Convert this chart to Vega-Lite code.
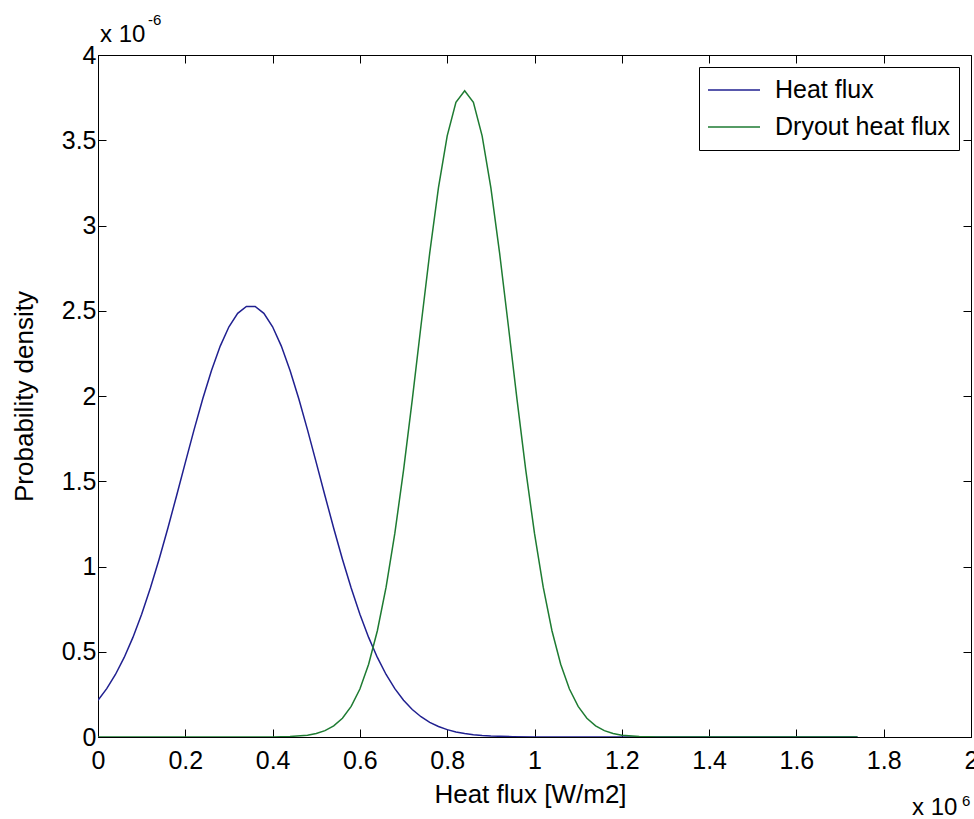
{
  "$schema": "https://vega.github.io/schema/vega-lite/v6.json",
  "width": 873,
  "height": 682,
  "autosize": "none",
  "padding": {"left": 98, "top": 55, "right": 3, "bottom": 82},
  "background": "white",
  "config": {
    "font": "Liberation Sans",
    "view": {"stroke": "black", "strokeWidth": 1},
    "axis": {
      "grid": false,
      "domainColor": "black",
      "tickColor": "black",
      "labelColor": "black",
      "titleColor": "black",
      "labelFontSize": 25,
      "titleFontSize": 26,
      "titleFontWeight": "normal",
      "tickSize": -8,
      "labelFont": "Liberation Sans",
      "titleFont": "Liberation Sans"
    },
    "legend": {"labelFont": "Liberation Sans"}
  },
  "datasets": {
    "curves": [
      {"series": "Heat flux", "x": 0.00, "y": 0.2156},
      {"series": "Heat flux", "x": 0.02, "y": 0.2834},
      {"series": "Heat flux", "x": 0.04, "y": 0.3666},
      {"series": "Heat flux", "x": 0.06, "y": 0.4665},
      {"series": "Heat flux", "x": 0.08, "y": 0.5842},
      {"series": "Heat flux", "x": 0.10, "y": 0.7203},
      {"series": "Heat flux", "x": 0.12, "y": 0.8736},
      {"series": "Heat flux", "x": 0.14, "y": 1.0426},
      {"series": "Heat flux", "x": 0.16, "y": 1.2243},
      {"series": "Heat flux", "x": 0.18, "y": 1.4153},
      {"series": "Heat flux", "x": 0.20, "y": 1.6093},
      {"series": "Heat flux", "x": 0.22, "y": 1.8011},
      {"series": "Heat flux", "x": 0.24, "y": 1.9838},
      {"series": "Heat flux", "x": 0.26, "y": 2.1497},
      {"series": "Heat flux", "x": 0.28, "y": 2.2927},
      {"series": "Heat flux", "x": 0.30, "y": 2.4060},
      {"series": "Heat flux", "x": 0.32, "y": 2.4847},
      {"series": "Heat flux", "x": 0.34, "y": 2.5249},
      {"series": "Heat flux", "x": 0.36, "y": 2.5249},
      {"series": "Heat flux", "x": 0.38, "y": 2.4847},
      {"series": "Heat flux", "x": 0.40, "y": 2.4060},
      {"series": "Heat flux", "x": 0.42, "y": 2.2927},
      {"series": "Heat flux", "x": 0.44, "y": 2.1497},
      {"series": "Heat flux", "x": 0.46, "y": 1.9838},
      {"series": "Heat flux", "x": 0.48, "y": 1.8011},
      {"series": "Heat flux", "x": 0.50, "y": 1.6093},
      {"series": "Heat flux", "x": 0.52, "y": 1.4153},
      {"series": "Heat flux", "x": 0.54, "y": 1.2243},
      {"series": "Heat flux", "x": 0.56, "y": 1.0426},
      {"series": "Heat flux", "x": 0.58, "y": 0.8736},
      {"series": "Heat flux", "x": 0.60, "y": 0.7203},
      {"series": "Heat flux", "x": 0.62, "y": 0.5842},
      {"series": "Heat flux", "x": 0.64, "y": 0.4665},
      {"series": "Heat flux", "x": 0.66, "y": 0.3666},
      {"series": "Heat flux", "x": 0.68, "y": 0.2834},
      {"series": "Heat flux", "x": 0.70, "y": 0.2156},
      {"series": "Heat flux", "x": 0.72, "y": 0.1615},
      {"series": "Heat flux", "x": 0.74, "y": 0.1189},
      {"series": "Heat flux", "x": 0.76, "y": 0.0861},
      {"series": "Heat flux", "x": 0.78, "y": 0.0615},
      {"series": "Heat flux", "x": 0.80, "y": 0.0432},
      {"series": "Heat flux", "x": 0.82, "y": 0.0298},
      {"series": "Heat flux", "x": 0.84, "y": 0.0203},
      {"series": "Heat flux", "x": 0.86, "y": 0.0136},
      {"series": "Heat flux", "x": 0.88, "y": 0.0089},
      {"series": "Heat flux", "x": 0.90, "y": 0.0058},
      {"series": "Heat flux", "x": 0.95, "y": 0.0018},
      {"series": "Heat flux", "x": 1.00, "y": 0.0005},
      {"series": "Heat flux", "x": 1.10, "y": 0.0},
      {"series": "Heat flux", "x": 1.20, "y": 0.0},
      {"series": "Heat flux", "x": 1.40, "y": 0.0},
      {"series": "Heat flux", "x": 1.60, "y": 0.0},
      {"series": "Heat flux", "x": 1.74, "y": 0.0},
      {"series": "Dryout heat flux", "x": 0.00, "y": 0.0},
      {"series": "Dryout heat flux", "x": 0.20, "y": 0.0},
      {"series": "Dryout heat flux", "x": 0.36, "y": 0.0},
      {"series": "Dryout heat flux", "x": 0.40, "y": 0.0006},
      {"series": "Dryout heat flux", "x": 0.44, "y": 0.0028},
      {"series": "Dryout heat flux", "x": 0.48, "y": 0.0109},
      {"series": "Dryout heat flux", "x": 0.50, "y": 0.0206},
      {"series": "Dryout heat flux", "x": 0.52, "y": 0.0373},
      {"series": "Dryout heat flux", "x": 0.54, "y": 0.0653},
      {"series": "Dryout heat flux", "x": 0.56, "y": 0.1102},
      {"series": "Dryout heat flux", "x": 0.58, "y": 0.1793},
      {"series": "Dryout heat flux", "x": 0.60, "y": 0.2817},
      {"series": "Dryout heat flux", "x": 0.62, "y": 0.4267},
      {"series": "Dryout heat flux", "x": 0.64, "y": 0.6233},
      {"series": "Dryout heat flux", "x": 0.66, "y": 0.8786},
      {"series": "Dryout heat flux", "x": 0.68, "y": 1.1939},
      {"series": "Dryout heat flux", "x": 0.70, "y": 1.5649},
      {"series": "Dryout heat flux", "x": 0.72, "y": 1.9788},
      {"series": "Dryout heat flux", "x": 0.74, "y": 2.4135},
      {"series": "Dryout heat flux", "x": 0.76, "y": 2.8395},
      {"series": "Dryout heat flux", "x": 0.78, "y": 3.2215},
      {"series": "Dryout heat flux", "x": 0.80, "y": 3.5258},
      {"series": "Dryout heat flux", "x": 0.82, "y": 3.7222},
      {"series": "Dryout heat flux", "x": 0.84, "y": 3.7900},
      {"series": "Dryout heat flux", "x": 0.86, "y": 3.7222},
      {"series": "Dryout heat flux", "x": 0.88, "y": 3.5258},
      {"series": "Dryout heat flux", "x": 0.90, "y": 3.2215},
      {"series": "Dryout heat flux", "x": 0.92, "y": 2.8395},
      {"series": "Dryout heat flux", "x": 0.94, "y": 2.4135},
      {"series": "Dryout heat flux", "x": 0.96, "y": 1.9788},
      {"series": "Dryout heat flux", "x": 0.98, "y": 1.5649},
      {"series": "Dryout heat flux", "x": 1.00, "y": 1.1939},
      {"series": "Dryout heat flux", "x": 1.02, "y": 0.8786},
      {"series": "Dryout heat flux", "x": 1.04, "y": 0.6233},
      {"series": "Dryout heat flux", "x": 1.06, "y": 0.4267},
      {"series": "Dryout heat flux", "x": 1.08, "y": 0.2817},
      {"series": "Dryout heat flux", "x": 1.10, "y": 0.1793},
      {"series": "Dryout heat flux", "x": 1.12, "y": 0.1102},
      {"series": "Dryout heat flux", "x": 1.14, "y": 0.0653},
      {"series": "Dryout heat flux", "x": 1.16, "y": 0.0373},
      {"series": "Dryout heat flux", "x": 1.18, "y": 0.0206},
      {"series": "Dryout heat flux", "x": 1.20, "y": 0.0109},
      {"series": "Dryout heat flux", "x": 1.24, "y": 0.0028},
      {"series": "Dryout heat flux", "x": 1.28, "y": 0.0006},
      {"series": "Dryout heat flux", "x": 1.35, "y": 0.0},
      {"series": "Dryout heat flux", "x": 1.50, "y": 0.0},
      {"series": "Dryout heat flux", "x": 1.74, "y": 0.0}
    ]
  },
  "resolve": {"axis": {"x": "independent", "y": "independent"}},
  "layer": [
    {
      "data": {"name": "curves"},
      "mark": {"type": "line", "strokeWidth": 1.5, "clip": true},
      "encoding": {
        "x": {
          "field": "x", "type": "quantitative",
          "scale": {"domain": [0, 2], "nice": false, "zero": false},
          "axis": {
            "orient": "bottom",
            "values": [0, 0.2, 0.4, 0.6, 0.8, 1, 1.2, 1.4, 1.6, 1.8, 2],
            "labelExpr": "format(datum.value, '~g')",
            "title": "Heat flux [W/m2]",
            "labelPadding": 19,
            "titlePadding": 8,
            "titleX": 432,
            "labelFlush": false,
            "labelOverlap": false
          }
        },
        "y": {
          "field": "y", "type": "quantitative",
          "scale": {"domain": [0, 4], "nice": false},
          "axis": {
            "orient": "left",
            "values": [0, 0.5, 1, 1.5, 2, 2.5, 3, 3.5, 4],
            "labelExpr": "format(datum.value, '~g')",
            "title": "Probability density",
            "labelPadding": 10,
            "titlePadding": 24,
            "labelFlush": false,
            "labelOverlap": false
          }
        },
        "color": {
          "field": "series", "type": "nominal",
          "scale": {"domain": ["Heat flux", "Dryout heat flux"], "range": ["#202090", "#1e7b32"]},
          "legend": {
            "title": null,
            "orient": "top-right",
            "offset": 12,
            "symbolType": "stroke",
            "symbolSize": 2704,
            "symbolStrokeWidth": 1.5,
            "clipHeight": 30,
            "labelFontSize": 25,
            "labelLimit": 400,
            "labelColor": "black",
            "labelOffset": 14,
            "rowPadding": 7,
            "padding": 8,
            "strokeColor": "black",
            "fillColor": "white"
          }
        }
      }
    },
    {
      "data": {"name": "curves"},
      "mark": {"type": "line", "opacity": 0},
      "encoding": {
        "x": {
          "field": "x", "type": "quantitative",
          "axis": {"orient": "top", "values": [0, 0.2, 0.4, 0.6, 0.8, 1, 1.2, 1.4, 1.6, 1.8, 2], "labels": false, "title": null, "domain": false}
        },
        "y": {
          "field": "y", "type": "quantitative",
          "axis": {"orient": "right", "values": [0, 0.5, 1, 1.5, 2, 2.5, 3, 3.5, 4], "labels": false, "title": null, "domain": false}
        }
      }
    },
    {
      "data": {"values": [{"t": "x 10"}]},
      "mark": {"type": "text", "align": "left", "baseline": "alphabetic", "fontSize": 24, "dx": 2, "dy": -13, "color": "black"},
      "encoding": {
        "x": {"datum": 0, "type": "quantitative", "axis": null},
        "y": {"datum": 4, "type": "quantitative", "axis": null},
        "text": {"field": "t"}
      }
    },
    {
      "data": {"values": [{"t": "-6"}]},
      "mark": {"type": "text", "align": "left", "baseline": "alphabetic", "fontSize": 15, "dx": 50, "dy": -30, "color": "black"},
      "encoding": {
        "x": {"datum": 0, "type": "quantitative", "axis": null},
        "y": {"datum": 4, "type": "quantitative", "axis": null},
        "text": {"field": "t"}
      }
    },
    {
      "data": {"values": [{"t": "x 10"}]},
      "mark": {"type": "text", "align": "left", "baseline": "alphabetic", "fontSize": 24, "dx": -59, "dy": 78, "color": "black"},
      "encoding": {
        "x": {"datum": 2, "type": "quantitative", "axis": null},
        "y": {"datum": 0, "type": "quantitative", "axis": null},
        "text": {"field": "t"}
      }
    },
    {
      "data": {"values": [{"t": "6"}]},
      "mark": {"type": "text", "align": "left", "baseline": "alphabetic", "fontSize": 15, "dx": -9, "dy": 69, "color": "black"},
      "encoding": {
        "x": {"datum": 2, "type": "quantitative", "axis": null},
        "y": {"datum": 0, "type": "quantitative", "axis": null},
        "text": {"field": "t"}
      }
    }
  ]
}
